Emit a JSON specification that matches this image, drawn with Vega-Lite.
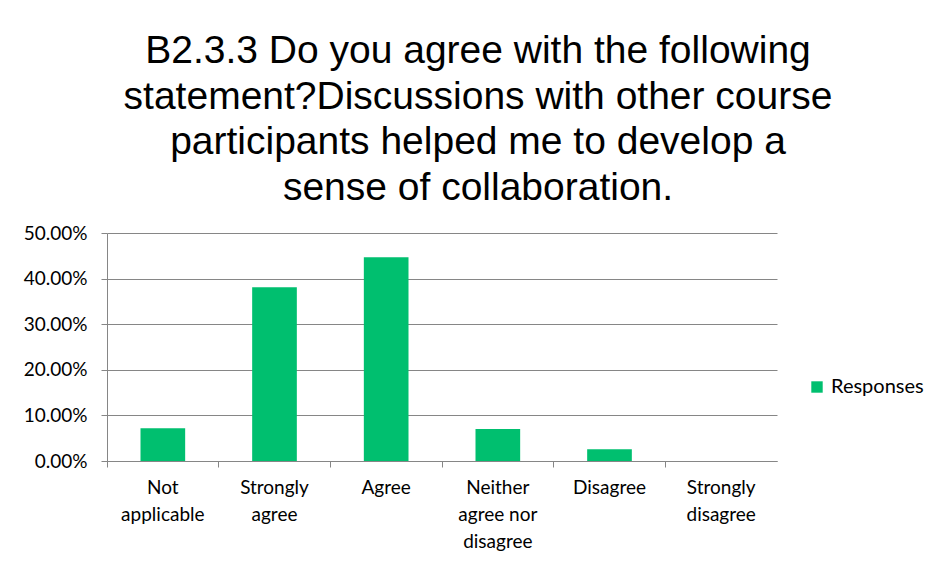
{
  "$schema": "https://vega.github.io/schema/vega-lite/v6.json",
  "autosize": {"type": "none"},
  "width": 670,
  "height": 228,
  "padding": {"left": 107, "top": 233, "right": 158, "bottom": 107},
  "background": "white",
  "title": {
    "text": ["B2.3.3 Do you agree with the following", "statement?Discussions with other course", "participants helped me to develop a", "sense of collaboration."],
    "anchor": "middle",
    "frame": "group",
    "dx": 36,
    "offset": 16,
    "font": "Liberation Sans",
    "fontSize": 39,
    "fontWeight": "normal",
    "lineHeight": 45.7,
    "color": "#000000"
  },
  "data": {
    "values": [
      {"category": "Not applicable", "value": 0.072, "series": "Responses"},
      {"category": "Strongly agree", "value": 0.381, "series": "Responses"},
      {"category": "Agree", "value": 0.447, "series": "Responses"},
      {"category": "Neither agree nor disagree", "value": 0.070, "series": "Responses"},
      {"category": "Disagree", "value": 0.026, "series": "Responses"},
      {"category": "Strongly disagree", "value": 0.0, "series": "Responses"}
    ]
  },
  "mark": {"type": "bar", "width": {"band": 0.4}},
  "encoding": {
    "x": {
      "field": "category",
      "type": "nominal",
      "sort": null,
      "scale": {"paddingInner": 0, "paddingOuter": 0},
      "axis": {
        "title": null,
        "labelAngle": 0,
        "bandPosition": 0,
        "labelOverlap": false,
        "labelExpr": "datum.label == 'Not applicable' ? ['Not','applicable'] : datum.label == 'Strongly agree' ? ['Strongly','agree'] : datum.label == 'Neither agree nor disagree' ? ['Neither','agree nor','disagree'] : datum.label == 'Strongly disagree' ? ['Strongly','disagree'] : datum.label",
        "labelFont": "Lato",
        "labelFontSize": 19,
        "labelColor": "#000000",
        "labelLineHeight": 27,
        "labelPadding": 11,
        "labelBaseline": "top",
        "tickSize": 6,
        "tickColor": "#868686",
        "domainColor": "#868686",
        "grid": false
      }
    },
    "y": {
      "field": "value",
      "type": "quantitative",
      "scale": {"domain": [0, 0.5]},
      "axis": {
        "title": null,
        "format": ".2%",
        "values": [0, 0.1, 0.2, 0.3, 0.4, 0.5],
        "labelOverlap": false,
        "labelFlush": false,
        "labelFont": "Lato",
        "labelFontSize": 19,
        "labelColor": "#000000",
        "labelPadding": 14,
        "tickSize": 6,
        "tickColor": "#868686",
        "domainColor": "#868686",
        "gridColor": "#868686",
        "grid": true
      }
    },
    "color": {
      "field": "series",
      "type": "nominal",
      "scale": {"range": ["#00BF6F"]},
      "legend": {
        "title": null,
        "orient": "none",
        "legendX": 700,
        "legendY": 144,
        "symbolType": "square",
        "symbolSize": 130,
        "symbolStrokeWidth": 0,
        "symbolOpacity": 1,
        "labelFont": "Lato",
        "labelFontSize": 20,
        "labelColor": "#000000",
        "labelOffset": 4
      }
    }
  },
  "config": {
    "view": {"stroke": null},
    "axis": {"domainWidth": 1, "tickWidth": 1, "gridWidth": 1}
  }
}
